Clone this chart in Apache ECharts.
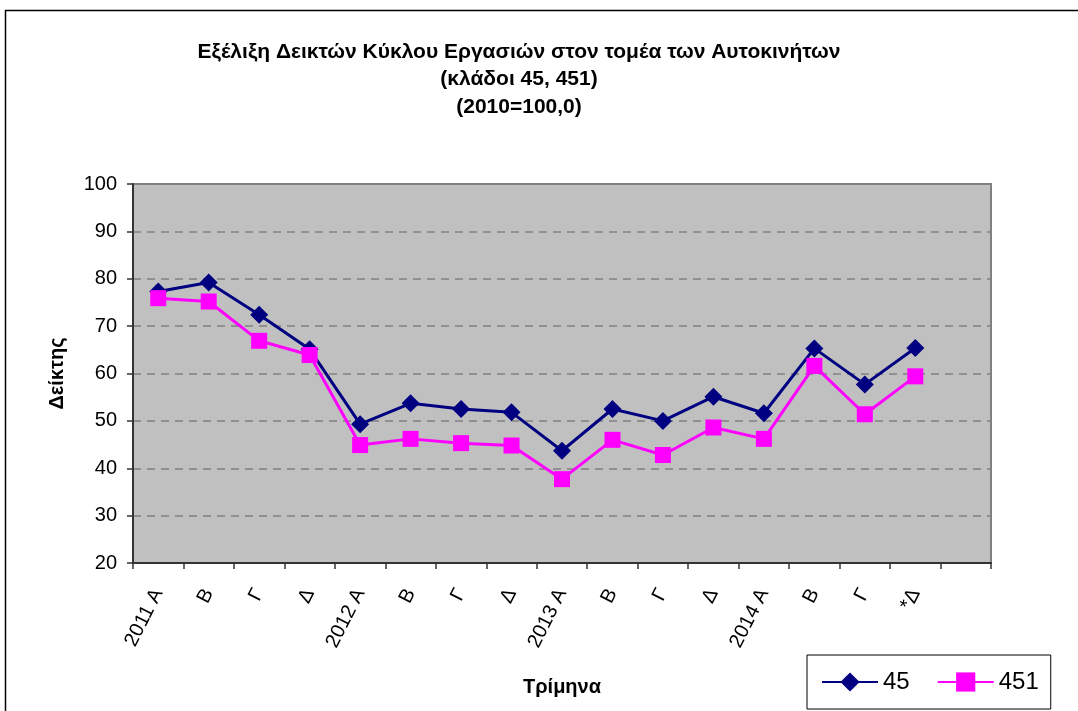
<!DOCTYPE html>
<html>
<head>
<meta charset="utf-8">
<script src="https://cdn.jsdelivr.net/npm/echarts@6/dist/echarts.min.js"></script>
<style>html,body{margin:0;padding:0;background:#fff;}#c{width:1078px;height:711px;}</style>
</head>
<body>
<div id="c"></div>
<script>
const categories = ['2011 Α','Β','Γ','Δ','2012 Α','Β','Γ','Δ','2013 Α','Β','Γ','Δ','2014 Α','Β','Γ','*Δ',''];
const series45 = [77.3, 79.2, 72.4, 65.1, 49.3, 53.7, 52.5, 51.8, 43.7, 52.5, 50.0, 55.1, 51.6, 65.3, 57.7, 65.4];
const series451 = [75.9, 75.2, 66.9, 63.9, 44.9, 46.2, 45.3, 44.8, 37.7, 46.0, 42.8, 48.6, 46.2, 61.6, 51.4, 59.4];
const yTicks = {min: 20, max: 100, interval: 10};
const titleLines = ['Εξέλιξη Δεικτών Κύκλου Εργασιών στον τομέα των Αυτοκινήτων', '(κλάδοι 45, 451)', '(2010=100,0)'];

const FONT = '"Liberation Sans", Arial, sans-serif';
const chart = echarts.init(document.getElementById('c'));
chart.setOption({
  animation: false,
  backgroundColor: '#fff',
  textStyle: {fontFamily: FONT},
  graphic: [{
    type: 'rect', shape: {x: 5.5, y: 10.5, width: 1200, height: 900},
    style: {fill: 'none', stroke: '#000', lineWidth: 1.5}, z: -1
  }],
  title: {
    text: titleLines.join('\n'),
    left: 514, top: 33, textAlign: 'center',
    textStyle: {fontFamily: FONT, fontSize: 21, fontWeight: 'bold', color: '#000', lineHeight: 27.5}
  },
  legend: {
    left: 807, top: 655,
    padding: [15, 12, 15, 14],
    borderColor: '#000', borderWidth: 1, backgroundColor: '#fff',
    itemWidth: 56, itemHeight: 24, itemGap: 27,
    textStyle: {fontFamily: FONT, fontSize: 24, color: '#000'},
    data: ['45', '451']
  },
  grid: {
    left: 133, right: 87, top: 184, bottom: 148,
    show: true, backgroundColor: '#C0C0C0', borderColor: '#808080', borderWidth: 2
  },
  xAxis: {
    type: 'category', data: categories, boundaryGap: true,
    name: 'Τρίμηνα', nameLocation: 'middle', nameGap: 114,
    nameTextStyle: {fontFamily: FONT, fontSize: 20, fontWeight: 'bold', color: '#000'},
    axisLine: {lineStyle: {color: '#333', width: 2}},
    axisTick: {show: true, length: 6, alignWithLabel: false, lineStyle: {color: '#333', width: 1.5}},
    axisLabel: {interval: 0, rotate: 63, margin: 27, fontFamily: FONT, fontSize: 20, color: '#000'}
  },
  yAxis: {
    type: 'value', min: yTicks.min, max: yTicks.max, interval: yTicks.interval,
    name: 'Δείκτης', nameLocation: 'middle', nameGap: 66, nameRotate: 90,
    nameTextStyle: {fontFamily: FONT, fontSize: 20, fontWeight: 'bold', color: '#000'},
    axisLine: {show: true, lineStyle: {color: '#333', width: 2}},
    axisTick: {show: true, length: 6, lineStyle: {color: '#333', width: 1.5}},
    axisLabel: {margin: 16, fontFamily: FONT, fontSize: 20, color: '#000'},
    splitLine: {show: true, lineStyle: {color: '#808080', width: 1.5, type: [8, 6]}}
  },
  series: [{
    name: '45', type: 'line', data: series45,
    symbol: 'diamond', symbolSize: 18,
    lineStyle: {color: '#000080', width: 3},
    itemStyle: {color: '#000080'}, z: 3
  }, {
    name: '451', type: 'line', data: series451,
    symbol: 'rect', symbolSize: 16,
    lineStyle: {color: '#FF00FF', width: 3},
    itemStyle: {color: '#FF00FF'}, z: 4
  }]
});
</script>
</body>
</html>
